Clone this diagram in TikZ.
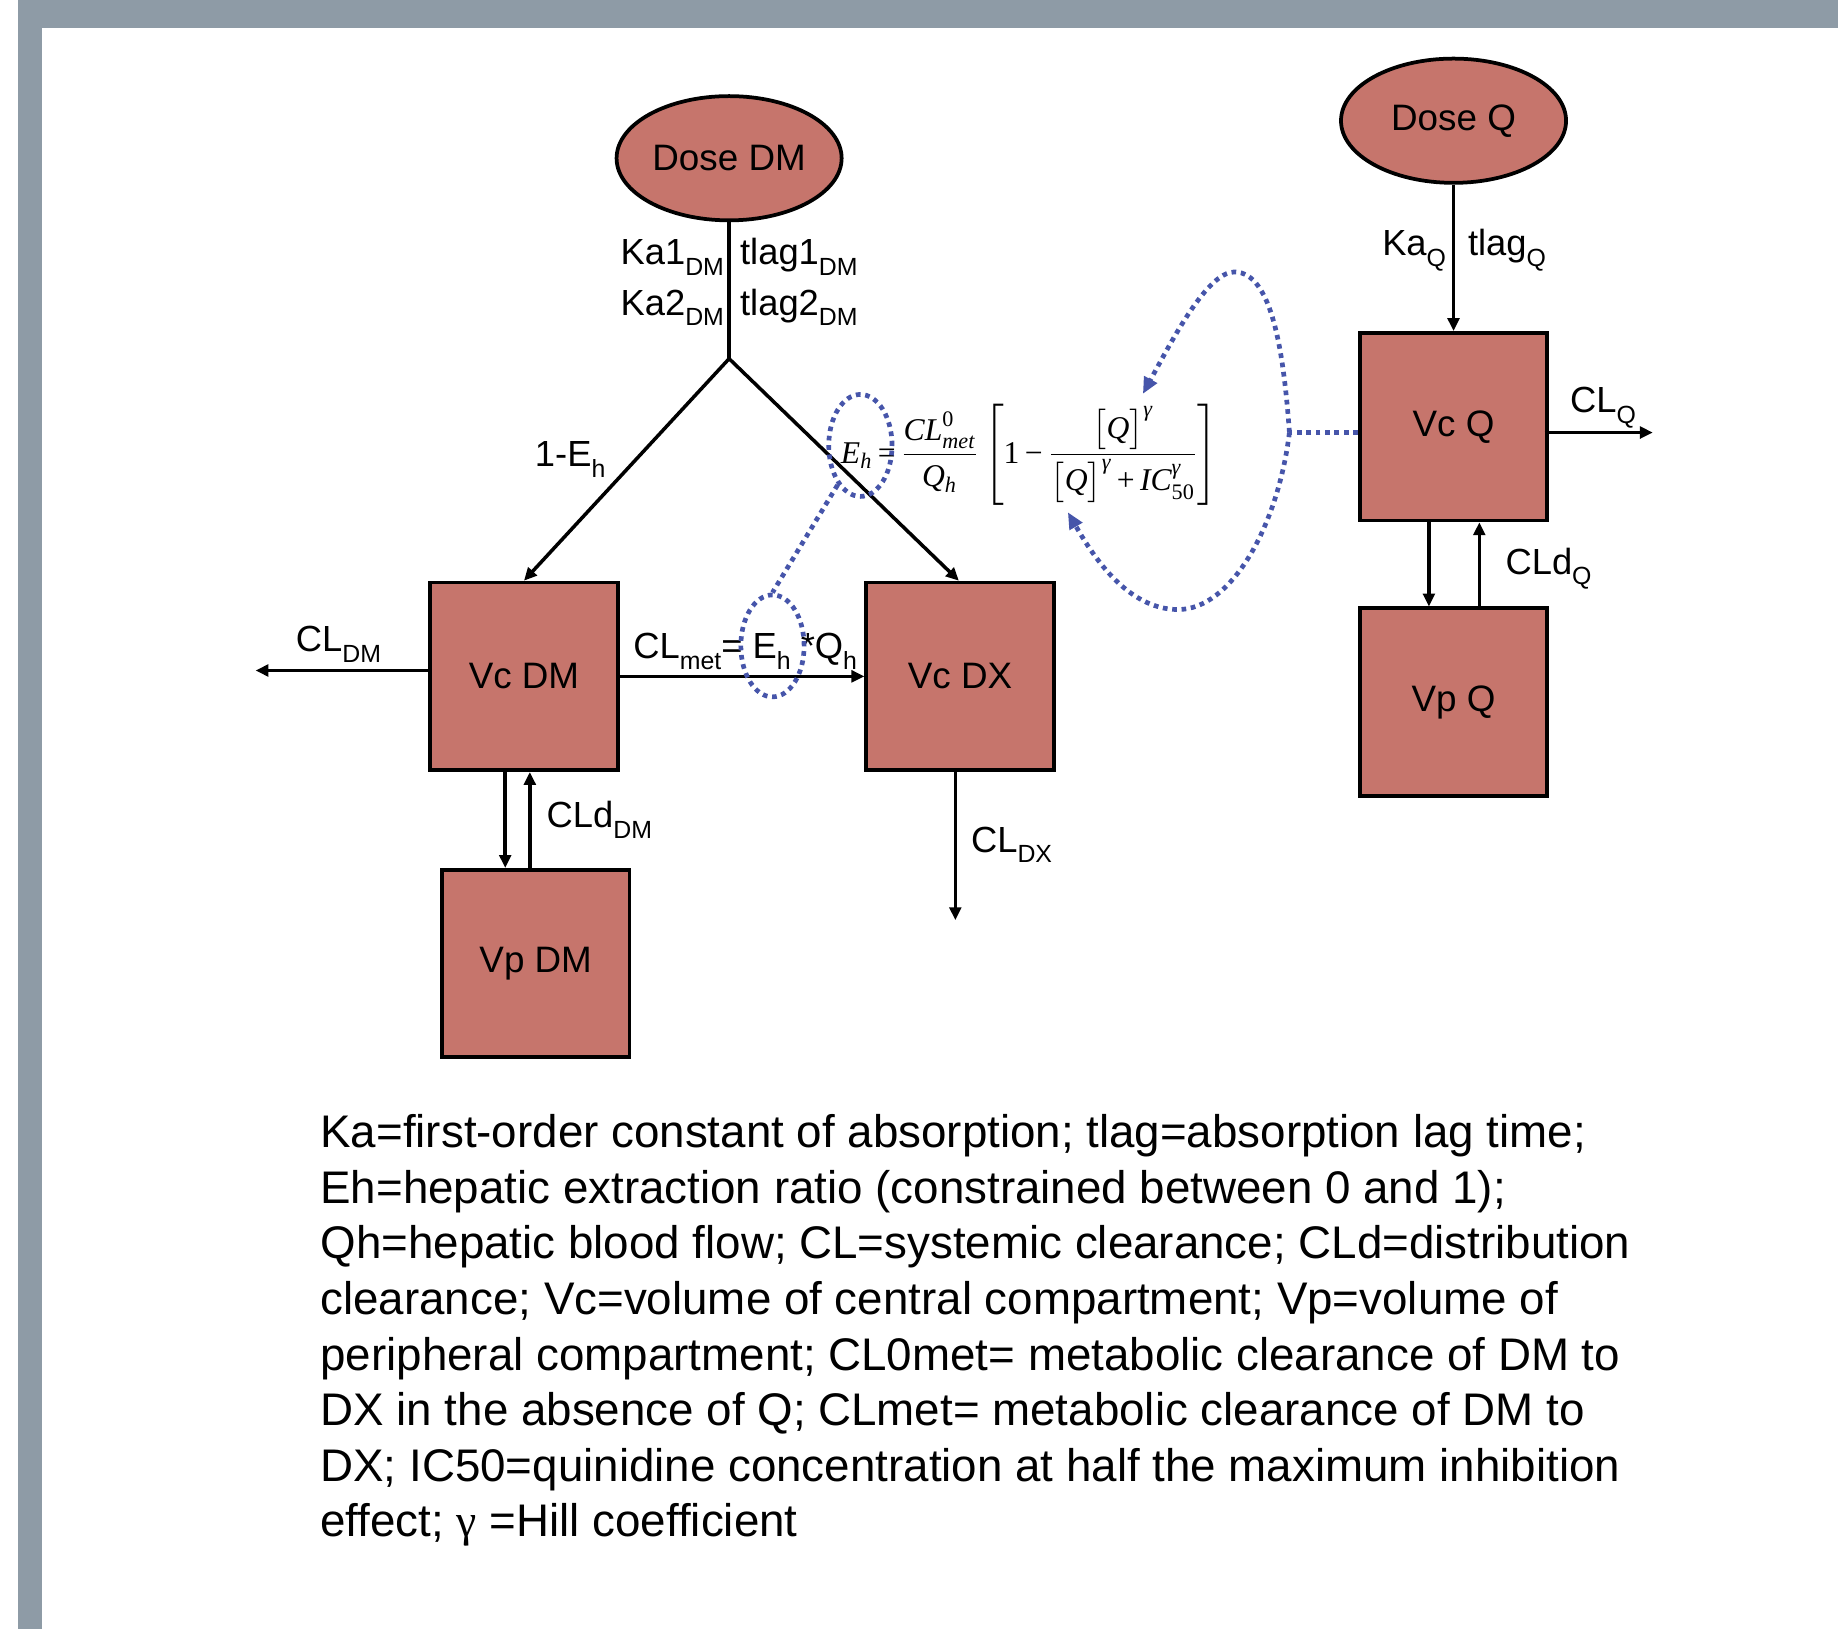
\documentclass[tikz,border=0pt]{standalone}
\usepackage{fontspec}
\usepackage{amsmath}
\setmainfont{Liberation Sans}
\newfontfamily\tms{Liberation Serif}
\usetikzlibrary{arrows.meta,shapes.geometric}
\definecolor{boxfill}{HTML}{C6756C}
\definecolor{dotblue}{HTML}{4655AA}
\definecolor{framegray}{HTML}{8E9BA6}
\newcommand\lsub[1]{\raisebox{-4.5pt}{\fontsize{10.6pt}{12pt}\selectfont #1}}
\newcommand\ti[1]{\text{\tms\itshape #1}}
\newcommand\tr[1]{\text{\tms #1}}
\begin{document}
\begin{tikzpicture}[x=0.5pt,y=-0.5pt,
  comp/.style={draw=black,line width=1.6pt,fill=boxfill,minimum width=80pt,minimum height=80pt,inner sep=0pt,font=\fontsize{15.7pt}{18pt}\selectfont},
  dose/.style={ellipse,draw=black,line width=1.6pt,fill=boxfill,minimum width=96pt,minimum height=53pt,inner sep=0pt,font=\fontsize{15.7pt}{18pt}\selectfont},
  flow/.style={line width=1.5pt,-{Triangle[length=5.5pt,width=5pt]}},
  plainline/.style={line width=1.5pt},
  lbl/.style={inner sep=0pt,font=\fontsize{15.5pt}{18pt}\selectfont},
  bluedot/.style={draw=dotblue,line width=2pt,dash pattern=on 2pt off 2pt},
  bluearr/.style={bluedot,-{Triangle[length=7pt,width=6pt,fill=dotblue]}},
  bluering/.style={ellipse,bluedot,inner sep=0pt,minimum width=27pt,minimum height=43.5pt}
]
\useasboundingbox (0,0) rectangle (1568,1390);
\fill[white] (0,0) rectangle (1568,1390);
\fill[framegray] (15,0) rectangle (1568,24);
\fill[framegray] (15,0) rectangle (36,1390);

% nodes
\node[dose] (ddm) at (622,135) {Dose DM};
\node[dose] (dq) at (1240,103) {Dose Q};
\node[comp] (vcdm) at (447,577) {Vc DM};
\node[comp] (vcdx) at (819,577) {Vc DX};
\node[comp] (vpdm) at (457,822) {Vp DM};
\node[comp] (vcq) at (1240,364) {Vc Q};
\node[comp] (vpq) at (1240,599) {Vp Q};

\coordinate (split) at (622,306);
\coordinate (cldmEnd) at (218,572);
\coordinate (cldxEnd) at (815,785);
\coordinate (clqEnd) at (1410,369);
\coordinate (hub) at (1100,369);

% connectors
\draw[plainline] (ddm.south) -- (split);
\draw[flow] (split) -- (vcdm.north);
\draw[flow] (split) -- ([xshift=-0.5pt]vcdx.north);
\draw[flow] (dq.south) -- (vcq.north);
\draw[flow] (vcdm.west |- cldmEnd) -- (cldmEnd);
\draw[flow] (vcdm.east) -- (vcdx.west);
\draw[flow] ([xshift=-8pt]vcdm.south) -- ([xshift=-8pt]vcdm.south |- vpdm.north);
\draw[flow] ([xshift=2.5pt]vcdm.south |- vpdm.north) -- ([xshift=2.5pt]vcdm.south);
\draw[flow] (cldxEnd |- vcdx.south) -- (cldxEnd);
\draw[flow] ([xshift=-2pt]vcq.east |- clqEnd) -- (clqEnd);
\draw[flow] ([xshift=-10.5pt]vcq.south) -- ([xshift=-10.5pt]vcq.south |- vpq.north);
\draw[flow] ([xshift=11pt]vcq.south |- vpq.north) -- ([xshift=11pt]vcq.south);

% labels
\node[lbl,anchor=base east] (ka1) at (618,226) {Ka1\lsub{DM}};
\node[lbl,anchor=base east] (ka2) at (618,269) {Ka2\lsub{DM}};
\node[lbl,anchor=base west] (tl1) at (631,226) {tlag1\lsub{DM}};
\node[lbl,anchor=base west] (tl2) at (631,269) {tlag2\lsub{DM}};
\node[lbl,anchor=base west] (oneeh) at (456,398) {1-E\lsub{h}};
\node[lbl,anchor=base west] (cldm) at (252,556) {CL\lsub{DM}};
\node[lbl,anchor=base west] (clmet) at (540,562) {CL\lsub{met}= E\lsub{h} *Q\lsub{h}};
\node[lbl,anchor=base west] (cld1) at (466,706) {CLd\lsub{DM}};
\node[lbl,anchor=base west] (cldx) at (828,727) {CL\lsub{DX}};
\node[lbl,anchor=base east] (kaq) at (1234,218) {Ka\lsub{Q}};
\node[lbl,anchor=base west] (tlq) at (1252,218) {tlag\lsub{Q}};
\node[lbl,anchor=base west] (clq) at (1339,352) {CL\lsub{Q}};
\node[lbl,anchor=base west] (cldq) at (1284,490) {CLd\lsub{Q}};

% formula
\node[inner sep=0pt,anchor=west,font=\fontsize{13.5pt}{16pt}\selectfont] (formula) at (717,388)
 {$\ti{E}_{\ti{h}}\tr{\,=\,}\dfrac{\ti{CL}^{\tr{0}}_{\ti{met}}}{\ti{Q}_{\ti{h}}}\left[\tr{1\,−\,}\dfrac{\big[\ti{Q}\big]^{\ti{γ}}}{\big[\ti{Q}\big]^{\ti{γ}}\tr{\,+\,}\ti{IC}^{\ti{γ}}_{\tr{50}}}\right]$};

% blue dotted rings and links
\node[bluering] (ringA) at (734,380) {};
\node[bluering] (ringB) at (659,551) {};
\draw[bluedot] (ringA.240) -- (ringB.north);
\draw[bluedot] (vcq.west |- hub) -- (hub);
\draw[bluearr] (hub) .. controls (1095,300) and (1085,232) .. (1053,232)
   .. controls (1030,232) and (1000,290) .. (975,336);
\draw[bluearr] (hub) .. controls (1090,450) and (1050,520) .. (1005,520)
   .. controls (960,520) and (930,470) .. (911,437);

% caption
\node[inner sep=0pt,anchor=base west,align=left,font=\fontsize{19.5pt}{23.7pt}\selectfont] (caption) at (273,1311)
 {Ka=first-order constant of absorption; tlag=absorption lag time;\\
 Eh=hepatic extraction ratio (constrained between 0 and 1);\\
 Qh=hepatic blood flow; CL=systemic clearance; CLd=distribution\\
 clearance; Vc=volume of central compartment; Vp=volume of\\
 peripheral compartment; CL0met= metabolic clearance of DM to\\
 DX in the absence of Q; CLmet= metabolic clearance of DM to\\
 DX; IC50=quinidine concentration at half the maximum inhibition\\
 effect; {\tms γ} =Hill coefficient};
\end{tikzpicture}
\end{document}
